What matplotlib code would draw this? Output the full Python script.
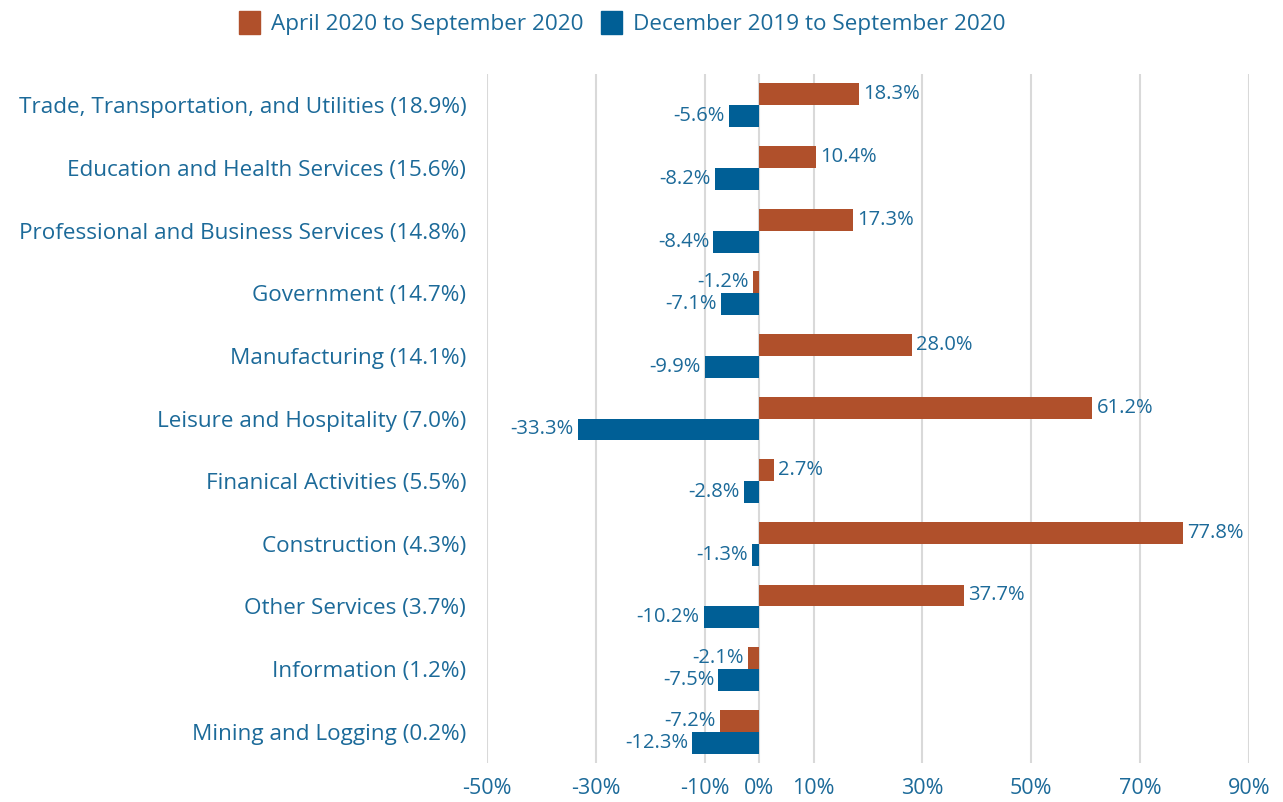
import numpy as np
import matplotlib.pyplot as plt
from matplotlib.patches import Patch

plt.rcParams['font.family'] = ['Open Sans', 'DejaVu Sans']

categories = ["Trade, Transportation, and Utilities (18.9%)",
              "Education and Health Services (15.6%)",
              "Professional and Business Services (14.8%)",
              "Government (14.7%)",
              "Manufacturing (14.1%)",
              "Leisure and Hospitality (7.0%)",
              "Finanical Activities (5.5%)",
              "Construction (4.3%)",
              "Other Services (3.7%)",
              "Information (1.2%)",
              "Mining and Logging (0.2%)"]
apr_sep = [18.3, 10.4, 17.3, -1.2, 28.0, 61.2, 2.7, 77.8, 37.7, -2.1, -7.2]
dec_sep = [-5.6, -8.2, -8.4, -7.1, -9.9, -33.3, -2.8, -1.3, -10.2, -7.5, -12.3]
xticks = [-50, -30, -10, 0, 10, 30, 50, 70, 90]

orange = "#B0502B"
blue = "#005F96"
txt = "#1C6A99"

fig = plt.figure(figsize=(12.83, 8.02), dpi=100)
ax = fig.add_axes([0.3796, 0.0486, 0.5939, 0.8591])

y = np.arange(len(categories))
h = 0.35
ax.barh(y - h/2, apr_sep, height=h, color=orange, zorder=3)
ax.barh(y + h/2, dec_sep, height=h, color=blue, zorder=3)

for yy, v in zip(y - h/2, apr_sep):
    ax.annotate(f"{v:.1f}%", (v, yy), xytext=(3 if v >= 0 else -3, 0),
                textcoords="offset points", va="center",
                ha="left" if v >= 0 else "right", fontsize=14.5, color=txt)
for yy, v in zip(y + h/2, dec_sep):
    ax.annotate(f"{v:.1f}%", (v, yy), xytext=(3 if v >= 0 else -3, 0),
                textcoords="offset points", va="center",
                ha="left" if v >= 0 else "right", fontsize=14.5, color=txt)

ax.set_xlim(-50, 90)
ax.set_ylim(len(categories) - 0.5, -0.5)
ax.set_xticks(xticks)
ax.set_xticklabels([f"{t}%" for t in xticks], fontsize=15.5, color=txt)
ax.set_yticks(y)
ax.set_yticklabels(categories, fontsize=16.2, color=txt)
ax.tick_params(length=0)
ax.tick_params(axis="y", pad=15)
ax.tick_params(axis="x", pad=11)
ax.xaxis.grid(True, color="#D9D9D9", linewidth=1.5, zorder=0)
for s in ax.spines.values():
    s.set_visible(False)

handles = [Patch(color=orange, label="April 2020 to September 2020"),
           Patch(color=blue, label="December 2019 to September 2020")]
leg = fig.legend(handles=handles, loc="upper center", bbox_to_anchor=(0.485, 1.012),
                 ncol=2, frameon=False, fontsize=16.2, handlelength=0.9,
                 handleheight=1.2, handletextpad=0.5, columnspacing=0.8)
for t in leg.get_texts():
    t.set_color(txt)

fig.savefig("out.png", dpi=100)
